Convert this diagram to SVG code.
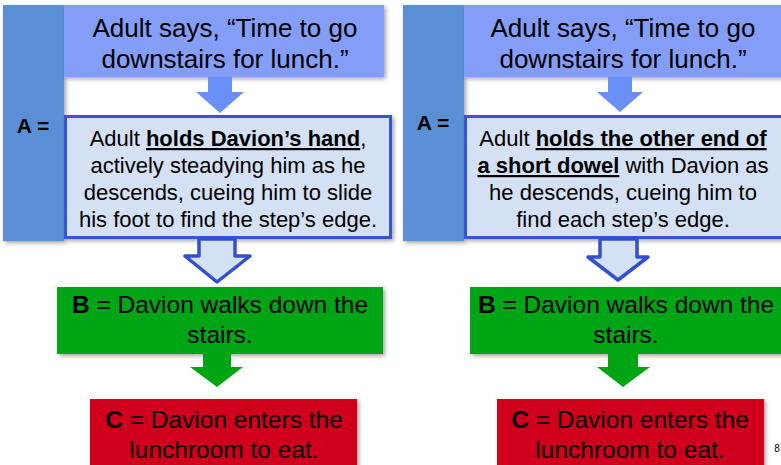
<svg xmlns="http://www.w3.org/2000/svg" width="781" height="465" viewBox="0 0 781 465">
  <defs>
    <filter id="shadow" x="-10%" y="-10%" width="120%" height="130%">
      <feDropShadow dx="2" dy="2" stdDeviation="2" flood-color="#000" flood-opacity="0.35"/>
    </filter>
    <filter id="soft" x="-20%" y="-20%" width="140%" height="140%">
      <feGaussianBlur stdDeviation="0.6"/>
    </filter>
  </defs>
  <style>
    text { font-family: "Liberation Sans", Arial, Helvetica, sans-serif; fill: #000; text-anchor: middle; }
    .bar { fill: #5a8fd6; }
    .prompt { fill: #849ef8; }
    .ante { fill: #d4e0f3; stroke: #3554d2; stroke-width: 3; }
    .beh { fill: #00a514; }
    .cons { fill: #d0021b; }
    .t26 { font-size: 26px; }
    .t22 { font-size: 22px; }
    .t24 { font-size: 24.5px; }
    .lbl { font-size: 21px; font-weight: bold; }
    .b { font-weight: bold; }
    .u { font-weight: bold; text-decoration: underline; }
    .arrow-solid { fill: #6a8ff6; }
    .arrow-open { fill: #d4e0f3; stroke: #3050d0; stroke-width: 3.5; stroke-linejoin: round; }
    .arrow-green { fill: #00a514; }
  </style>

  <!-- left column -->
  <g id="left-bar">
    <rect class="bar" x="3" y="5" width="61" height="236" filter="url(#shadow)"/>
    <text class="lbl" x="33" y="133">A =</text>
  </g>
  <g id="left-prompt">
    <rect class="prompt" x="64" y="5" width="320" height="72" filter="url(#shadow)"/>
    <text class="t26" x="225" y="37">Adult says, “Time to go</text>
    <text class="t26" x="225" y="68">downstairs for lunch.”</text>
  </g>
  <g id="left-antecedent">
    <rect class="ante" x="65.5" y="116.5" width="325" height="121" filter="url(#shadow)"/>
    <text class="t22" x="228" y="146">Adult <tspan class="u">holds Davion’s hand</tspan>,</text>
    <text class="t22" x="228" y="173">actively steadying him as he</text>
    <text class="t22" x="228" y="200">descends, cueing him to slide</text>
    <text class="t22" x="228" y="227">his foot to find the step’s edge.</text>
  </g>
  <g id="left-behavior">
    <rect class="beh" x="57" y="287" width="326" height="67" filter="url(#shadow)"/>
    <text class="t24" x="220" y="313"><tspan class="b">B</tspan> = Davion walks down the</text>
    <text class="t24" x="220" y="343">stairs.</text>
  </g>
  <g id="left-consequence">
    <rect class="cons" x="90" y="399" width="267" height="70" filter="url(#shadow)"/>
    <text class="t24" x="224" y="428"><tspan class="b">C</tspan> = Davion enters the</text>
    <text class="t24" x="224" y="458">lunchroom to eat.</text>
  </g>

  <!-- right column -->
  <g id="right-bar">
    <rect class="bar" x="403" y="5" width="61" height="236" filter="url(#shadow)"/>
    <text class="lbl" x="433" y="130">A =</text>
  </g>
  <g id="right-prompt">
    <rect class="prompt" x="464" y="5" width="320" height="72" filter="url(#shadow)"/>
    <text class="t26" x="623" y="37">Adult says, “Time to go</text>
    <text class="t26" x="623" y="68">downstairs for lunch.”</text>
  </g>
  <g id="right-antecedent">
    <rect class="ante" x="465.5" y="116.5" width="320" height="121" filter="url(#shadow)"/>
    <text class="t22" x="623" y="146">Adult <tspan class="u">holds the other end of</tspan></text>
    <text class="t22" x="623" y="173"><tspan class="u">a short dowel</tspan> with Davion as</text>
    <text class="t22" x="623" y="200">he descends, cueing him to</text>
    <text class="t22" x="623" y="227">find each step’s edge.</text>
  </g>
  <g id="right-behavior">
    <rect class="beh" x="470" y="287" width="315" height="67" filter="url(#shadow)"/>
    <text class="t24" x="626" y="313"><tspan class="b">B</tspan> = Davion walks down the</text>
    <text class="t24" x="626" y="343">stairs.</text>
  </g>
  <g id="right-consequence">
    <rect class="cons" x="497" y="399" width="267" height="70" filter="url(#shadow)"/>
    <text class="t24" x="630" y="428"><tspan class="b">C</tspan> = Davion enters the</text>
    <text class="t24" x="630" y="458">lunchroom to eat.</text>
  </g>

  <!-- block arrows between steps -->
  <g id="connectors">
    <polygon class="arrow-solid" points="208,77 232,77 232,92 244,92 220,113 196,92 208,92"/>
    <polygon class="arrow-solid" points="608,77 632,77 632,92 643,92 620,112 597,92 608,92"/>
    <polygon class="arrow-open" filter="url(#soft)" points="199,239 235,239 235,256 250,256 217,282 185,256 199,256"/>
    <polygon class="arrow-open" filter="url(#soft)" points="600,239 637,239 637,257 648,257 618,280 588,257 600,257"/>
    <polygon class="arrow-green" points="203,354 231,354 231,367 243,367 217,387 190,367 203,367"/>
    <polygon class="arrow-green" points="608,354 638,354 638,367 650,367 623,387 597,367 608,367"/>
  </g>

  <text x="777" y="452" style="font-size:10px">8</text>
</svg>
